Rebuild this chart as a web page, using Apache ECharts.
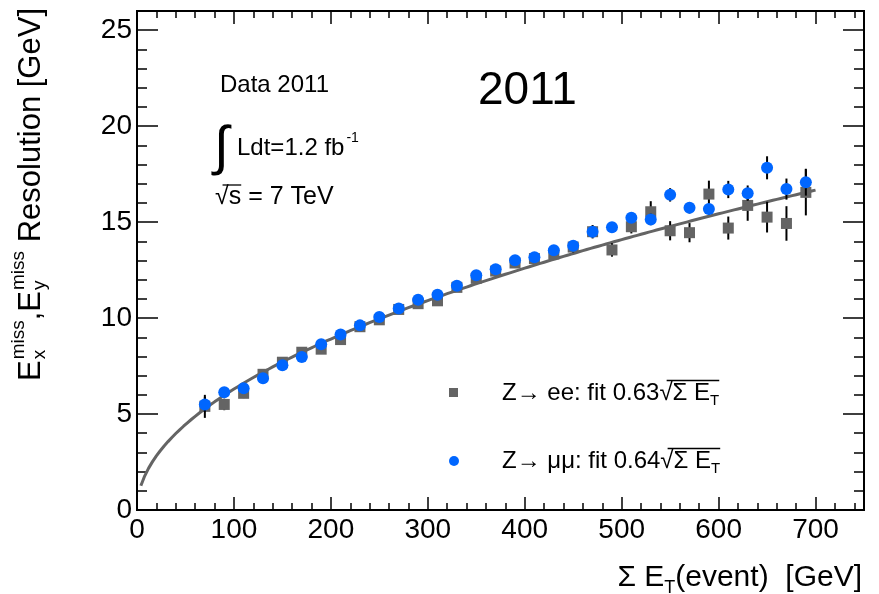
<!DOCTYPE html>
<html>
<head>
<meta charset="utf-8">
<script src="https://cdn.jsdelivr.net/npm/echarts@6/dist/echarts.min.js"></script>
<style>
  html, body { margin: 0; padding: 0; background: #fff; }
  #chart { width: 879px; height: 594px; }
</style>
</head>
<body>
<div id="chart"></div>
<script>
// Sum E_T bin centres [GeV]
const sumEt = [70, 90, 110, 130, 150, 170, 190, 210, 230, 250, 270, 290, 310, 330, 350, 370,
               390, 410, 430, 450, 470, 490, 510, 530, 550, 570, 590, 610, 630, 650, 670, 690];
// Z -> ee resolution [GeV] and uncertainties
const resEE = [5.40, 5.50, 6.08, 7.07, 7.70, 8.22, 8.38, 8.88, 9.55, 9.91, 10.45, 10.75, 10.90, 11.60, 12.07, 12.45,
               12.87, 13.10, 13.34, 13.70, 14.50, 13.55, 14.76, 15.54, 14.55, 14.45, 16.46, 14.69, 15.87, 15.26, 14.93, 16.55];
const errEE = [0.60, 0.30, 0.25, 0.20, 0.20, 0.20, 0.20, 0.20, 0.20, 0.20, 0.20, 0.20, 0.20, 0.20, 0.20, 0.20,
               0.25, 0.25, 0.25, 0.30, 0.35, 0.35, 0.35, 0.55, 0.50, 0.50, 0.70, 0.60, 0.80, 0.80, 0.90, 1.20];
// Z -> mumu resolution [GeV] and uncertainties
const resMuMu = [5.50, 6.13, 6.34, 6.86, 7.54, 7.97, 8.64, 9.15, 9.62, 10.05, 10.50, 10.95, 11.21, 11.68, 12.23, 12.54,
                 13.01, 13.17, 13.53, 13.77, 14.50, 14.73, 15.23, 15.14, 16.42, 15.75, 15.68, 16.70, 16.51, 17.83, 16.72, 17.08];
const errMuMu = [0.40, 0.15, 0.15, 0.15, 0.15, 0.15, 0.15, 0.15, 0.15, 0.15, 0.15, 0.15, 0.15, 0.15, 0.15, 0.15,
                 0.15, 0.15, 0.15, 0.15, 0.25, 0.20, 0.25, 0.30, 0.35, 0.30, 0.30, 0.45, 0.40, 0.60, 0.55, 0.70];
// Fit coefficients: sigma = k * sqrt(Sum E_T)
const fitCoefEE = 0.63;
const fitCoefMuMu = 0.64;
const fitRange = [4, 700];

const X_MAX = 750, Y_MAX = 26;
const FONT = '"Liberation Sans", Arial, Helvetica, sans-serif';
const GREY = '#646464';
const BLUE = '#0066ff';

// fit curve of the ee sample
const fitCurve = [];
for (let x = fitRange[0]; x <= fitRange[1]; x += 4) fitCurve.push([x, fitCoefEE * Math.sqrt(x)]);

const measureCtx = document.createElement('canvas').getContext('2d');
function tw(str, size) {
  measureCtx.font = size + 'px ' + FONT;
  return measureCtx.measureText(str).width;
}
function txt(text, x, y, size, extra) {
  return Object.assign({
    type: 'text', x: x, y: y, silent: true,
    style: { text: text, font: size + 'px ' + FONT, fill: '#000',
             align: 'left', textAlign: 'left', verticalAlign: 'middle', textVerticalAlign: 'middle' }
  }, extra || {});
}
function hline(x1, x2, y, w) {
  return { type: 'line', silent: true, shape: { x1: x1, y1: y, x2: x2, y2: y },
           style: { stroke: '#000', lineWidth: w || 1.5 } };
}

// ---- y-axis title (rotated group) ----
const YT = 31, YS = 19;
const yTitleParts = [];
let cx = 0;
function eMiss(sub) {
  yTitleParts.push(txt('E', cx, 0, YT));
  cx += tw('E', YT) + 1;
  yTitleParts.push(txt('miss', cx, -12, YS));
  yTitleParts.push(txt(sub, cx, 9, YS));
  cx += Math.max(tw('miss', YS), tw(sub, YS));
}
eMiss('x');
yTitleParts.push(txt(',', cx, 0, YT)); cx += tw(',', YT);
eMiss('y');
yTitleParts.push(txt(' Resolution [GeV]', cx, 0, YT)); cx += tw(' Resolution [GeV]', YT);
const yTitleLen = cx;

// ---- x-axis title ----
const XT = 30, XS = 18;
const xTitleParts = [];
{
  const w1 = tw('\u03A3 E', XT), w2 = tw('T', XS), w3 = tw('(event)  [GeV]', XT);
  let x0 = 862 - (w1 + w2 + w3);
  xTitleParts.push(txt('\u03A3 E', x0, 578, XT));
  xTitleParts.push(txt('T', x0 + w1, 588, XS));
  xTitleParts.push(txt('(event)  [GeV]', x0 + w1 + w2, 578, XT));
}

// ---- legend entries ----
function legendRow(prefix, y) {
  const LS = 24, LSub = 15;
  const parts = [];
  let x = 502;
  parts.push(txt(prefix, x, y, LS)); x += tw(prefix, LS);
  parts.push(txt('\u221A', x, y, LS)); const xr = x + tw('\u221A', LS) * 0.55; x += tw('\u221A', LS);
  parts.push(txt('\u03A3 E', x, y, LS)); x += tw('\u03A3 E', LS);
  parts.push(txt('T', x, y + 8, LSub)); x += tw('T', LSub);
  parts.push(hline(xr, x, y - 12.5, 1.3));
  return parts;
}
const legendParts = [].concat(
  [{ type: 'rect', silent: true, shape: { x: 449, y: 388, width: 9, height: 9 }, style: { fill: GREY } }],
  legendRow('Z\u2192 ee: fit ' + fitCoefEE.toFixed(2), 393),
  [{ type: 'circle', silent: true, shape: { cx: 454, cy: 461, r: 5 }, style: { fill: BLUE } }],
  legendRow('Z\u2192 \u03BC\u03BC: fit ' + fitCoefMuMu.toFixed(2), 461)
);

// ---- annotations ----
const annParts = [
  txt('Data 2011', 220, 85, 24),
  txt('2011', 478, 91, 46),
  txt('\u222B', 214, 149, 54),
  txt('Ldt=1.2 fb', 237, 148, 24),
  txt('-1', 237 + tw('Ldt=1.2 fb', 24) + 2, 138, 14),
  txt('\u221As = 7 TeV', 215, 197, 25)
];
{
  const wr = tw('\u221A', 25);
  annParts.push(hline(215 + wr * 0.55, 215 + wr + tw('s', 25), 185, 1.3));
}

function errorBars(values, errs, z) {
  return {
    type: 'custom', z: z, silent: true,
    data: sumEt.map((x, i) => [x, values[i] - errs[i], values[i] + errs[i]]),
    encode: { x: 0, y: [1, 2] },
    renderItem: (params, api) => {
      const lo = api.coord([api.value(0), api.value(1)]);
      const hi = api.coord([api.value(0), api.value(2)]);
      return { type: 'line', shape: { x1: lo[0], y1: lo[1], x2: hi[0], y2: hi[1] },
               style: { stroke: '#000', lineWidth: 2 } };
    }
  };
}

const frameLine = { show: true, onZero: false, lineStyle: { color: '#000', width: 2 } };
function xAx(pos, interval, tickLen, labels) {
  return {
    type: 'value', position: pos, min: 0, max: X_MAX, interval: interval,
    axisLine: frameLine, splitLine: { show: false },
    axisTick: { show: true, inside: true, length: tickLen, lineStyle: { color: '#000', width: 1.5 } },
    axisLabel: labels ? { show: true, fontSize: 28, fontFamily: FONT, color: '#000', margin: 6, showMaxLabel: false }
                      : { show: false }
  };
}
function yAx(pos, interval, tickLen, labels) {
  return {
    type: 'value', position: pos, min: 0, max: Y_MAX, interval: interval,
    axisLine: frameLine, splitLine: { show: false },
    axisTick: { show: true, inside: true, length: tickLen, lineStyle: { color: '#000', width: 1.5 } },
    axisLabel: labels ? { show: true, fontSize: 28, fontFamily: FONT, color: '#000', margin: 5, showMaxLabel: false }
                      : { show: false }
  };
}

const chart = echarts.init(document.getElementById('chart'), null, { renderer: 'canvas' });
chart.setOption({
  animation: false,
  backgroundColor: '#fff',
  grid: { left: 137, right: 15, top: 11, bottom: 84, containLabel: false },
  xAxis: [
    xAx('bottom', 100, 13, true),
    xAx('bottom', 20, 7, false),
    xAx('top', 100, 13, false),
    xAx('top', 20, 7, false)
  ],
  yAxis: [
    yAx('left', 5, 21, true),
    yAx('left', 1, 10, false),
    yAx('right', 5, 21, false),
    yAx('right', 1, 10, false)
  ],
  series: [
    { name: 'fit', type: 'line', data: fitCurve, showSymbol: false, smooth: false, z: 1, silent: true,
      lineStyle: { color: GREY, width: 3 } },
    errorBars(resEE, errEE, 2),
    { name: 'Z\u2192ee', type: 'scatter', symbol: 'rect', symbolSize: 11, z: 3, silent: true,
      itemStyle: { color: GREY, opacity: 1 }, data: sumEt.map((x, i) => [x, resEE[i]]) },
    errorBars(resMuMu, errMuMu, 4),
    { name: 'Z\u2192\u03BC\u03BC', type: 'scatter', symbol: 'circle', symbolSize: 12, z: 5, silent: true,
      itemStyle: { color: BLUE, opacity: 1 }, data: sumEt.map((x, i) => [x, resMuMu[i]]) }
  ],
  graphic: [
    { type: 'group', x: 31, y: 8 + yTitleLen, rotation: Math.PI / 2, children: yTitleParts },
    { type: 'group', children: xTitleParts },
    { type: 'group', children: legendParts },
    { type: 'group', children: annParts }
  ]
});
</script>
</body>
</html>
